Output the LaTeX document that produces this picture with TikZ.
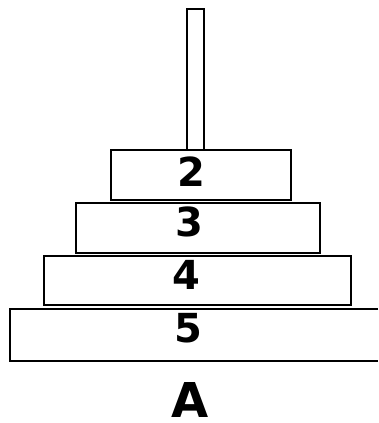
\documentclass[tikz,border=0pt]{standalone}
\usepackage{fontspec}
\newfontfamily\lblfont{DejaVu Sans}
\begin{document}
\begin{tikzpicture}[x=1pt,y=-1pt,
  disk/.style={draw=black,line width=2.3pt,fill=white},
  num/.style={font=\lblfont\bfseries\fontsize{40}{40}\selectfont,inner sep=0pt,anchor=center},
  pegname/.style={font=\lblfont\bfseries\fontsize{48}{48}\selectfont,inner sep=0pt,anchor=center}]
\useasboundingbox (0,0) rectangle (378,423);
\fill[white] (0,0) rectangle (378,423);
\draw[disk] (187,9) rectangle (204,175) coordinate (pole);
\draw[disk] (111,150) rectangle (291,200);
\draw[disk] (76,203) rectangle (320,253);
\draw[disk] (44,256) rectangle (351,305);
\fill[white] (10,309) rectangle (378,361);
\draw[disk,fill=none] (378,309) -- (10,309) -- (10,361) -- (378,361);
\node[num] (d2) at (191.5,172) {2};
\node[num] (d3) at (189,222) {3};
\node[num] (d4) at (186.5,275) {4};
\node[num] (d5) at (188.5,328) {5};
\node[pegname] (A) at (190.5,399.5) {A};
\end{tikzpicture}
\end{document}
